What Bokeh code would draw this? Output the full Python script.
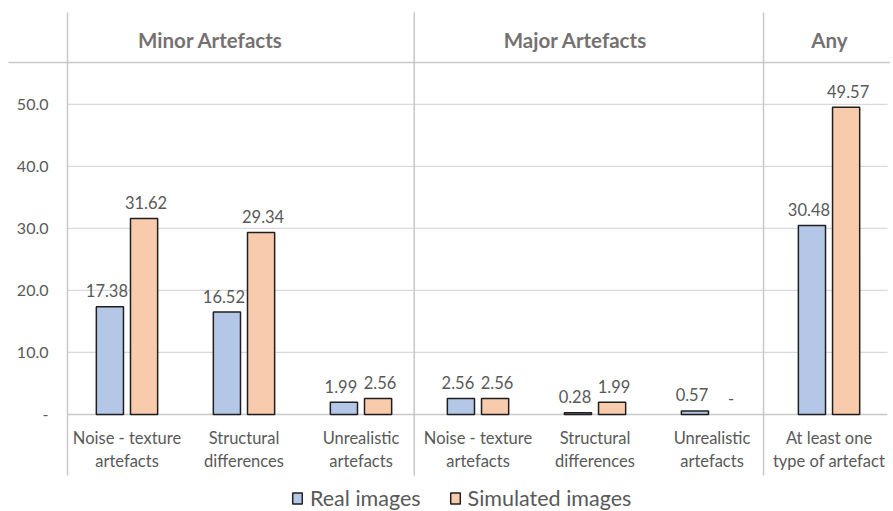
from bokeh.plotting import figure
from bokeh.models import ColumnDataSource, Legend, LegendItem, Range1d
from bokeh.core.properties import value
from bokeh.embed import file_html
from bokeh.resources import INLINE

# ---- data ----
categories = ["Noise - texture\nartefacts", "Structural\ndifferences", "Unrealistic\nartefacts",
              "Noise - texture\nartefacts", "Structural\ndifferences", "Unrealistic\nartefacts",
              "At least one\ntype of artefact"]
groups = ["Minor Artefacts", "Major Artefacts", "Any"]
group_sizes = [3, 3, 1]
real_images = [17.38, 16.52, 1.99, 2.56, 0.28, 0.57, 30.48]
simulated_images = [31.62, 29.34, 2.56, 2.56, 1.99, None, 49.57]
y_ticks = [0, 10, 20, 30, 40, 50]
y_tick_labels = ["-", "10.0", "20.0", "30.0", "40.0", "50.0"]

# ---- style ----
FONT = "Lato"
TXT = "#595959"
BLUE = "#B4C7E7"
ORANGE = "#F8CBAD"
EDGE = "#1f1f1f"
GRID = "#d9d9d9"
SEP = "#c8c8c8"
BAR_W = 0.232
OFF = 0.146

n = len(categories)
xc = [i + 0.5 for i in range(n)]

p = figure(width=893, height=511, output_backend="svg", toolbar_location=None,
           x_axis_type=None, y_axis_type=None, min_border=0,
           x_range=Range1d(-0.581, 7.051), y_range=Range1d(-15.65, 66.77))
p.outline_line_color = None
p.xgrid.visible = False
p.ygrid.visible = False

x_left = -0.0085
x_right = 7.0
y_top = 64.84
y_bot = -9.84
header_y = 56.77

# gridlines
grid_src = ColumnDataSource(dict(y=[t for t in y_ticks if t > 0]))
p.segment(x0=x_left, x1=x_right, y0="y", y1="y", source=grid_src, line_color=GRID, line_width=1.2)
p.segment(x0=[x_left], x1=[x_right], y0=[0], y1=[0], line_color=SEP, line_width=1.5)

# header line and separators
p.segment(x0=[-0.513], x1=[x_right + 0.02], y0=[header_y], y1=[header_y], line_color=SEP, line_width=1.5)
bounds = []
acc = 0
for s in group_sizes[:-1]:
    acc += s
    bounds.append(acc - 0.045 - 0.015 * (len(bounds)))
sep_x = [x_left] + bounds
p.segment(x0=sep_x, x1=sep_x, y0=[y_bot] * len(sep_x), y1=[y_top] * len(sep_x),
          line_color=SEP, line_width=1.5)

# bars
nan = float("nan")
real_src = ColumnDataSource(dict(x=[c - OFF for c in xc], top=real_images,
                                 lbl=["%.2f" % v for v in real_images]))
sim_src = ColumnDataSource(dict(x=[c + OFF for c in xc],
                                top=[v if v is not None else nan for v in simulated_images],
                                ly=[v if v is not None else 0 for v in simulated_images],
                                lbl=["%.2f" % v if v is not None else "-" for v in simulated_images]))
r1 = p.vbar(x="x", top="top", bottom=0, width=BAR_W, source=real_src,
            fill_color=BLUE, line_color=EDGE, line_width=1.5)
r2 = p.vbar(x="x", top="top", bottom=0, width=BAR_W, source=sim_src,
            fill_color=ORANGE, line_color=EDGE, line_width=1.5)

# data labels
p.text(x="x", y="top", text="lbl", source=real_src, text_align="center", text_baseline="middle",
       y_offset=-16, x_offset=-3, text_font=value(FONT), text_font_size="16.5px", text_color=TXT)
p.text(x="x", y="ly", text="lbl", source=sim_src, text_align="center", text_baseline="middle",
       y_offset=-16, x_offset=2, text_font=value(FONT), text_font_size="16.5px", text_color=TXT)

# y tick labels
p.text(x=[-0.171] * len(y_ticks), y=y_ticks, text=y_tick_labels, text_align="right",
       text_baseline="middle", text_font=value(FONT), text_font_size="16px", text_color=TXT)

# category labels
p.text(x=xc, y=[-2.2] * n, text=categories, text_align="center", text_baseline="top",
       text_line_height=1.12, text_font=value(FONT), text_font_size="16.5px", text_color=TXT)

# group headers
header_x = [1.214, 4.333, 6.504]
p.text(x=header_x, y=[60.32] * len(groups), text=groups, text_align="center",
       text_baseline="middle", text_font=value(FONT), text_font_size="20.5px",
       text_font_style="bold", text_color="#767171")

legend = Legend(items=[LegendItem(label="Real images", renderers=[r1]),
                       LegendItem(label="Simulated images", renderers=[r2])],
                orientation="horizontal", location=(291, 0), glyph_width=12, glyph_height=14,
                label_text_font=FONT, label_text_font_size="21.5px", label_text_color=TXT,
                spacing=28, label_standoff=7, padding=0, margin=0,
                border_line_color=None, background_fill_alpha=0, label_height=20)
p.add_layout(legend)

open("out.html", "w").write(file_html(p, INLINE))
